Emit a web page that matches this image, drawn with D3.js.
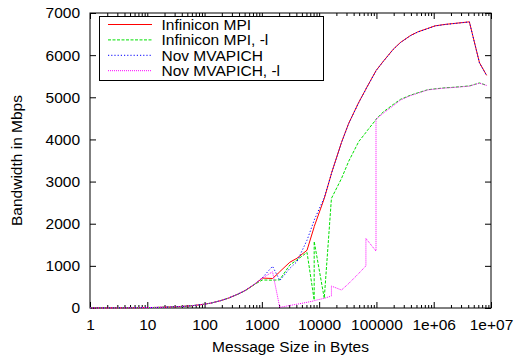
<!DOCTYPE html>
<html>
<head>
<meta charset="utf-8">
<script src="https://cdn.jsdelivr.net/npm/d3@7"></script>
<style>
  body { margin: 0; background: #fff; }
  text { font-family: "Liberation Sans", Arial, sans-serif; font-size: 15.5px; fill: #000; }
</style>
</head>
<body>
<svg id="chart" width="515" height="360"></svg>
<script>
// message sizes in bytes (NetPIPE style, a few perturbed sizes kept where the curves jump)
const sizes = [1, 2, 3, 4, 6, 8, 12, 16, 24, 32, 48, 64, 96, 128, 192, 256, 384, 512, 768, 1024,
  1536, 2045, 2048, 3072, 4096, 6144, 8189, 8192, 12288, 16381, 16384, 24576, 32768, 49152,
  65533, 65536, 98301, 98304, 131072, 196608, 262144, 393216, 524288, 786432, 1048576,
  1572864, 2097152, 3145728, 4194304, 6291456, 8388608];

// bandwidth in Mbps
const infiniconMpi = [1, 1.9, 2.9, 3.9, 5.8, 7.7, 11.5, 15, 23, 30, 44, 58, 88, 115, 175, 230, 330, 415, 575, 710,
  700, 855, 860, 1085, 1180, 1370, 1925, 1930, 2600, 3190, 3195, 3930, 4380, 4880,
  5195, 5198, 5630, 5632, 5850, 6140, 6300, 6466, 6550, 6633, 6694,
  6729, 6747, 6772, 6790, 5820, 5520];
const infiniconMpiL = [1, 1.9, 2.9, 3.9, 5.8, 7.7, 11.5, 15, 23, 30, 44, 58, 88, 115, 175, 230, 328, 410, 570, 665,
  660, 668, 670, 1020, 1140, 1320, 190, 1580, 230, 2600, 2600, 3074, 3480, 3950,
  4165, 4170, 4470, 4480, 4650, 4830, 4950, 5050, 5105, 5180, 5200,
  5225, 5235, 5255, 5270, 5340, 5285];
const novMvapich = [1, 1.9, 2.9, 3.9, 5.8, 7.7, 11.5, 15, 23, 30, 44, 58, 88, 115, 175, 230, 332, 418, 580, 720,
  990, 660, 650, 940, 1100, 1610, 2080, 2086, 2620, 3185, 3190, 3925, 4375, 4875,
  5190, 5195, 5625, 5630, 5845, 6135, 6297, 6462, 6547, 6630, 6692,
  6727, 6745, 6770, 6788, 5815, 5515];
const novMvapichL = [1, 1.9, 2.9, 3.9, 5.8, 7.7, 11.5, 15, 23, 30, 44, 58, 88, 115, 175, 230, 330, 415, 575, 710,
  860, 25, 15, 60, 90, 135, 170, 175, 230, 285, 520, 427, 580, 820,
  1000, 1650, 1350, 4480, 4620, 4800, 4935, 5040, 5095, 5175, 5195,
  5220, 5230, 5250, 5265, 5335, 5280];

const seriesNames = ["Infinicon MPI", "Infinicon MPI, -l", "Nov MVAPICH", "Nov MVAPICH, -l"];
const seriesColors = ["#ff0000", "#00e000", "#0000ff", "#ff00ff"];
const seriesDashes = [null, "3,1.5", "1.2,2", "1,1"];

const xTicks = [1, 10, 100, 1000, 10000, 100000, 1e6, 1e7];
const xTickLabels = ["1", "10", "100", "1000", "10000", "100000", "1e+06", "1e+07"];
const yTicks = [0, 1000, 2000, 3000, 4000, 5000, 6000, 7000];

const margin = { left: 90, right: 24, top: 13, bottom: 52 };
const W = 515, H = 360;
const svg = d3.select("#chart");

const x = d3.scaleLog().domain([1, 1e7]).range([margin.left, W - margin.right]);
const y = d3.scaleLinear().domain([0, 7000]).range([H - margin.bottom, margin.top]);

const minorTicks = [];
for (let d = 1; d < 1e7; d *= 10) {
  for (let k = 2; k <= 9; k++) minorTicks.push(d * k);
}

function clean(g) {
  g.select(".domain").remove();
  g.selectAll("line").attr("stroke", "#000").attr("stroke-width", 1);
}

// bottom axis
svg.append("g")
  .attr("transform", `translate(0,${y(0)})`)
  .call(d3.axisBottom(x).tickValues(xTicks)
    .tickFormat((d, i) => xTickLabels[i])
    .tickSizeInner(-6).tickSizeOuter(0).tickPadding(11))
  .call(clean)
  .selectAll("text").style("font-size", "15.5px").attr("font-family", null);

svg.append("g")
  .attr("transform", `translate(0,${y(0)})`)
  .call(d3.axisBottom(x).tickValues(minorTicks).tickFormat("")
    .tickSizeInner(-3).tickSizeOuter(0))
  .call(clean);

// top axis (mirror)
svg.append("g")
  .attr("transform", `translate(0,${y(7000)})`)
  .call(d3.axisTop(x).tickValues(xTicks).tickFormat("")
    .tickSizeInner(-6).tickSizeOuter(0))
  .call(clean);

svg.append("g")
  .attr("transform", `translate(0,${y(7000)})`)
  .call(d3.axisTop(x).tickValues(minorTicks).tickFormat("")
    .tickSizeInner(-3).tickSizeOuter(0))
  .call(clean);

// left axis
svg.append("g")
  .attr("transform", `translate(${x(1)},0)`)
  .call(d3.axisLeft(y).tickValues(yTicks).tickFormat(d3.format("d"))
    .tickSizeInner(-6).tickSizeOuter(0).tickPadding(10))
  .call(clean)
  .selectAll("text").style("font-size", "15.5px").attr("font-family", null);

// right axis (mirror)
svg.append("g")
  .attr("transform", `translate(${x(1e7)},0)`)
  .call(d3.axisRight(y).tickValues(yTicks).tickFormat("")
    .tickSizeInner(-6).tickSizeOuter(0))
  .call(clean);

// frame
svg.append("rect")
  .attr("x", x(1)).attr("y", y(7000))
  .attr("width", x(1e7) - x(1)).attr("height", y(0) - y(7000))
  .attr("fill", "none").attr("stroke", "#000").attr("stroke-width", 1);

// series
const allSeries = [infiniconMpi, infiniconMpiL, novMvapich, novMvapichL];
const line = d3.line()
  .x((d, i) => x(sizes[i]))
  .y(d => y(d));

allSeries.forEach((vals, si) => {
  svg.append("path")
    .datum(vals)
    .attr("d", line)
    .attr("fill", "none")
    .attr("stroke", seriesColors[si])
    .attr("stroke-width", 1)
    .attr("stroke-dasharray", seriesDashes[si]);
});

// legend
const lg = svg.append("g");
lg.append("rect")
  .attr("x", 99.5).attr("y", 16.5).attr("width", 224).attr("height", 64)
  .attr("fill", "#fff").attr("stroke", "#000").attr("stroke-width", 1);

seriesNames.forEach((name, i) => {
  const cy = 24.5 + i * 15.4;
  lg.append("line")
    .attr("x1", 108).attr("x2", 152).attr("y1", cy).attr("y2", cy)
    .attr("stroke", seriesColors[i]).attr("stroke-width", 1)
    .attr("stroke-dasharray", seriesDashes[i]);
  lg.append("text")
    .attr("x", 161.5).attr("y", cy + 5.5)
    .text(name);
});

// axis titles
svg.append("text")
  .attr("x", (x(1) + x(1e7)) / 2).attr("y", 352)
  .attr("text-anchor", "middle")
  .text("Message Size in Bytes");

svg.append("text")
  .attr("transform", `translate(21.5,${(y(0) + y(7000)) / 2}) rotate(-90)`)
  .attr("text-anchor", "middle")
  .text("Bandwidth in Mbps");
</script>
</body>
</html>
